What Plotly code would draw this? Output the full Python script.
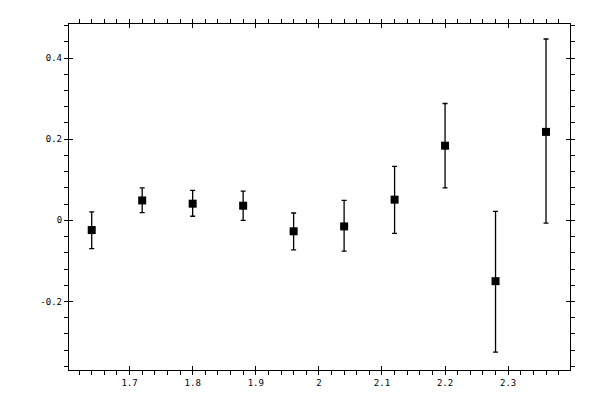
import plotly.graph_objects as go

x_vals = [1.64, 1.72, 1.80, 1.88, 1.96, 2.04, 2.12, 2.20, 2.28, 2.36]
y_vals = [-0.024, 0.049, 0.041, 0.036, -0.027, -0.015, 0.051, 0.184, -0.150, 0.218]
err_up = [0.045, 0.031, 0.033, 0.036, 0.045, 0.064, 0.082, 0.104, 0.172, 0.229]
err_down = [0.046, 0.030, 0.031, 0.036, 0.046, 0.061, 0.083, 0.104, 0.175, 0.225]

# Tick labels
x_ticks = [1.7, 1.8, 1.9, 2.0, 2.1, 2.2, 2.3]
x_ticktext = ["1.7", "1.8", "1.9", "2", "2.1", "2.2", "2.3"]
y_ticks = [-0.2, 0, 0.2, 0.4]
y_ticktext = ["-0.2", "0", "0.2", "0.4"]

x_range = [1.604, 2.398]
y_range = [-0.369, 0.484]

font = dict(family="DejaVu Sans Mono", size=9, color="black")

fig = go.Figure()
fig.add_trace(go.Scatter(
    x=x_vals, y=y_vals, mode="markers",
    marker=dict(symbol="square", size=8, color="black"),
    error_y=dict(type="data", symmetric=False, array=err_up, arrayminus=err_down,
                 color="black", thickness=1.3, width=2.5),
    showlegend=False,
))
# invisible trace so the overlay axes (inward tick halves) get drawn
fig.add_trace(go.Scatter(x=[None], y=[None], xaxis="x2", yaxis="y2",
                         showlegend=False, hoverinfo="skip"))

axis_common = dict(showgrid=False, zeroline=False, linecolor="black", linewidth=1.3,
                   mirror="ticks", ticks="outside", ticklen=4, tickwidth=1.3,
                   tickcolor="black", tickfont=font)

# page body adds an 8px offset, margins compensate for it
fig.update_layout(
    width=600, height=400,
    margin=dict(l=61, r=38, t=11, b=38),
    plot_bgcolor="white", paper_bgcolor="white",
    xaxis=dict(range=x_range, tickvals=x_ticks, ticktext=x_ticktext,
               minor=dict(dtick=0.02, tick0=1.6, ticks="outside", ticklen=4,
                          tickwidth=1.3, tickcolor="black"),
               **axis_common),
    yaxis=dict(range=y_range, tickvals=y_ticks, ticktext=y_ticktext,
               minor=dict(dtick=0.04, tick0=0, ticks="outside", ticklen=4,
                          tickwidth=1.3, tickcolor="black"),
               **axis_common),
    xaxis2=dict(range=x_range, overlaying="x", anchor="y2", tickvals=x_ticks,
                showticklabels=False, showline=False, showgrid=False, zeroline=False,
                ticks="inside", ticklen=4, tickwidth=1.3, tickcolor="black", mirror="ticks"),
    yaxis2=dict(range=y_range, overlaying="y", anchor="x2", tickvals=y_ticks,
                showticklabels=False, showline=False, showgrid=False, zeroline=False,
                ticks="inside", ticklen=4, tickwidth=1.3, tickcolor="black", mirror="ticks"),
)

fig.write_html("out.html")
